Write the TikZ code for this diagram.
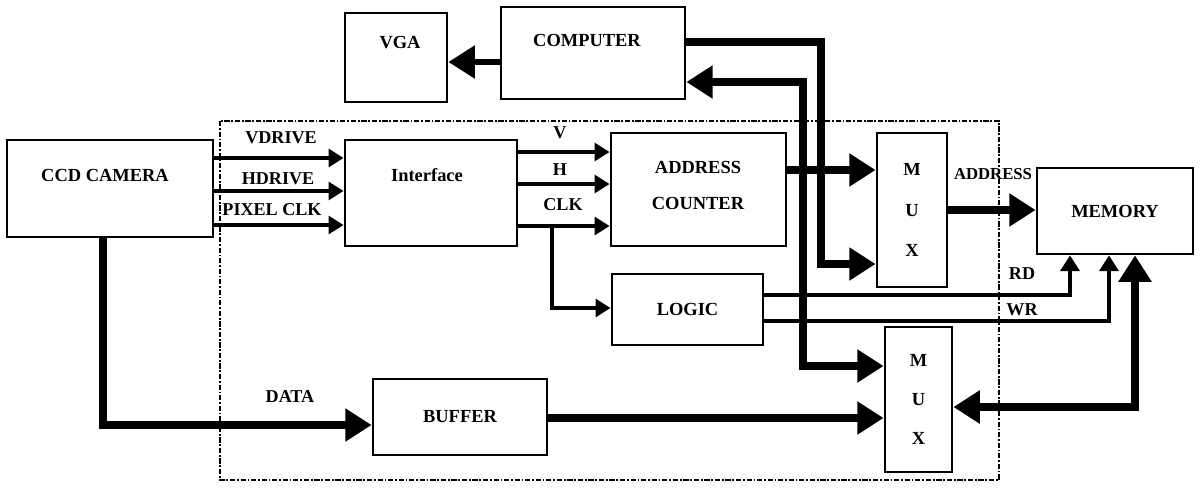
\documentclass[tikz,border=0pt]{standalone}
\usepackage{fontspec}
\setmainfont{Liberation Serif}
\usetikzlibrary{arrows.meta}

\begin{document}
\begin{tikzpicture}[x=0.02cm, y=-0.02cm,
  blk/.style={draw, line width=1.6pt, inner sep=0pt, font=\fontsize{10.5}{12}\selectfont\bfseries},
  txt/.style={inner sep=0pt, font=\fontsize{10.5}{12}\selectfont\bfseries},
  lbl/.style={inner sep=0pt, font=\fontsize{10.3}{12}\selectfont\bfseries},
  bus/.style={line width=4.5pt, -{Triangle[length=15pt,width=18pt]}},
  busboth/.style={line width=4.5pt, {Triangle[length=15pt,width=18pt]}-{Triangle[length=15pt,width=18pt]}},
  sig/.style={line width=2.6pt, -{Triangle[length=8.5pt,width=10pt]}},
  ctl/.style={line width=1.8pt, -{Triangle[length=9pt,width=11pt]}},
  frame/.style={line width=0.8pt, dash pattern=on 3pt off 1pt on 1pt off 1pt}]
\useasboundingbox (0,0) rectangle (1201,488);

% Dotted board outline
\draw[frame] (220,121) rectangle (999,480);

% Draw the blocks
\node[blk, minimum width=2.04cm, minimum height=1.78cm] (vga) at (396,57.5) {};
\node[txt] (vgatxt) at (400,43) {VGA};
\node[blk, minimum width=3.68cm, minimum height=1.84cm] (comp) at (593,53) {};
\node[txt] (comptxt) at (587,40) {COMPUTER};
\node[blk, minimum width=4.12cm, minimum height=1.94cm] (ccd) at (110,188.5) {};
\node[txt] (ccdtxt) at (105,175) {CCD CAMERA};
\node[blk, minimum width=3.44cm, minimum height=2.12cm] (intf) at (431,193) {};
\node[txt] (intftxt) at (427,175) {Interface};
\node[blk, minimum width=3.5cm, minimum height=2.26cm] (addr) at (698.5,189.5) {};
\node[txt, align=center, font=\fontsize{10.5}{20}\selectfont\bfseries] (addrtxt) at (698,185.5) {ADDRESS\\COUNTER};
\node[blk, minimum width=3.02cm, minimum height=1.42cm] (logic) at (687.5,309.5) {LOGIC};
\node[blk, minimum width=1.4cm, minimum height=3.08cm, align=center, font=\fontsize{10.5}{23.3}\selectfont\bfseries] (muxa) at (912,210) {M\\U\\X};
\node[blk, minimum width=1.34cm, minimum height=2.9cm, align=center, font=\fontsize{10.5}{22}\selectfont\bfseries] (muxb) at (918.5,399.5) {M\\U\\X};
\node[blk, minimum width=3.12cm, minimum height=1.72cm] (mem) at (1115,211) {MEMORY};
\node[blk, minimum width=3.48cm, minimum height=1.52cm] (buf) at (460,417) {BUFFER};

% Computer side
\draw[bus, line width=3.4pt] (comp.west |- 0,62) -- (vga.east |- 0,62);
\draw[bus] (comp.east |- 0,42) -| (821,264) -- (muxa.west |- 0,264);
\draw[busboth] (comp.east |- 0,82) -| (803,366) -- (muxb.west |- 0,366);

% Camera to interface
\draw[sig] (ccd.east |- 0,158) -- (intf.west |- 0,158);
\draw[sig] (ccd.east |- 0,191) -- (intf.west |- 0,191);
\draw[sig] (ccd.east |- 0,225) -- (intf.west |- 0,225);
\node[lbl] (vdrv) at (281,138) {VDRIVE};
\node[lbl] (hdrv) at (278,179) {HDRIVE};
\node[lbl] (pclk) at (272,210) {PIXEL CLK};

% Interface to counter and logic
\draw[sig] (intf.east |- 0,152) -- (addr.west |- 0,152);
\draw[sig] (intf.east |- 0,184) -- (addr.west |- 0,184);
\draw[sig] (intf.east |- 0,226) -- (addr.west |- 0,226);
\coordinate (clkbr) at (552,226);
\draw[sig, line width=2.2pt] (clkbr) |- (logic.west |- 0,308);
\node[lbl] (vlbl) at (560,133) {V};
\node[lbl] (hlbl) at (560,170) {H};
\node[lbl] (clklbl) at (563,205) {CLK};

% Address path
\draw[bus] (addr.east |- 0,170) -- (muxa.west |- 0,170);
\draw[bus] (muxa.east |- 0,210) -- (mem.west |- 0,210);
\node[lbl, font=\fontsize{9.5}{11}\selectfont\bfseries] (addrlbl) at (993,174) {ADDRESS};

% Read / write strobes
\draw[ctl] (logic.east |- 0,295) -| (mem.south -| 1070,0);
\draw[ctl] (logic.east |- 0,321) -| (mem.south -| 1109,0);
\node[lbl] (rdlbl) at (1022,274) {RD};
\node[lbl] (wrlbl) at (1022,310) {WR};

% Data path
\draw[bus] (ccd.south -| 103,0) |- (buf.west |- 0,425);
\node[lbl] (datalbl) at (290,397) {DATA};
\draw[bus] (buf.east |- 0,418) -- (muxb.west |- 0,418);
\draw[busboth] (mem.south -| 1135,0) |- (muxb.east |- 0,407);
\end{tikzpicture}
\end{document}
